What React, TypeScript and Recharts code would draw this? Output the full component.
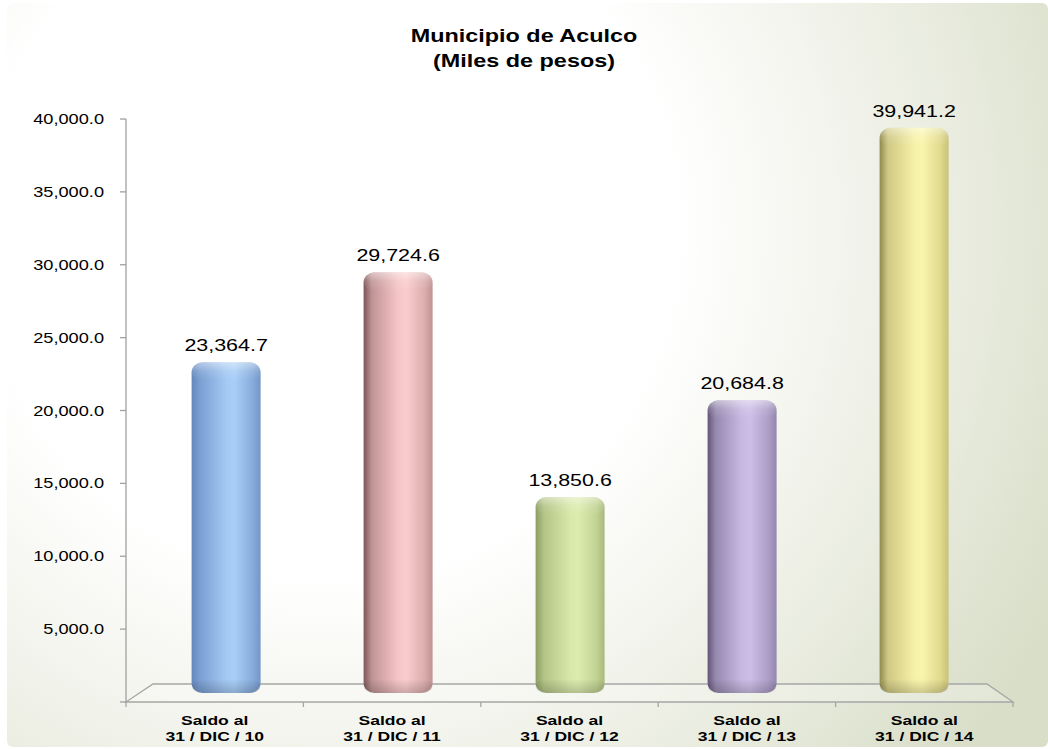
import { BarChart, Bar, XAxis, YAxis, LabelList } from 'recharts';

// data
const categories = ['31 / DIC / 10', '31 / DIC / 11', '31 / DIC / 12', '31 / DIC / 13', '31 / DIC / 14'];
const saldos = [23364.7, 29724.6, 13850.6, 20684.8, 39941.2];
const yTicks = [0, 5000, 10000, 15000, 20000, 25000, 30000, 35000, 40000];
const labelPrefix = 'Saldo al';

// layout
const W = 1048;
const H = 749;
const PLOT = { left: 126, right: 1013, top: 119, bottom: 702 };
const FLOOR_DEPTH = 18;
const FLOOR_INSET = 27;
const SX = 1.3; // the source picture is stretched horizontally
const FONT = '"Liberation Sans", Arial, sans-serif';

// the bars stand on the back of the 3D floor, so they use a slightly shifted scale
const backDomain = [-640, 40560];

// cylinder shading, left edge -> highlight -> right edge
const shades = [
  ['#6587bb', '#7b9fd2', '#a4c9f3', '#a9cff8', '#88acdc', '#7396c8'],
  ['#7d5658', '#c09496', '#f6c6c7', '#facccd', '#dcaeae', '#c09294'],
  ['#8d9c63', '#b3c486', '#d8e8aa', '#dcecaf', '#c3d394', '#a9b97c'],
  ['#625678', '#978ab0', '#c8b9e2', '#ccbee6', '#ad9ec8', '#9486ad'],
  ['#8f8a4e', '#cfc884', '#f6f1a8', '#faf5ad', '#e0da8e', '#c8c27a'],
];
const stopAt = [0, 0.12, 0.5, 0.62, 0.88, 1];

const data = categories.map((name, i) => ({ name, value: saldos[i] }));

const fmt = (v: number) =>
  v.toLocaleString('en-US', { minimumFractionDigits: 1, maximumFractionDigits: 1 });

const YTick = (p: any) => {
  if (p.payload.value === 0) return <g />;
  return (
    <text
      transform={`translate(${p.x},${p.y}) scale(${SX},1)`}
      textAnchor="end"
      dy={5}
      fontSize={14}
      fontFamily={FONT}
      fill="#000"
    >
      {fmt(p.payload.value)}
    </text>
  );
};

const XTick = (p: any) => (
  <g transform={`translate(${p.x},${p.y})`}>
    <text transform={`scale(${SX},1)`} textAnchor="middle" fontSize={13.5} fontWeight="bold" fontFamily={FONT} fill="#000">
      <tspan x={0} y={23}>{labelPrefix}</tspan>
      <tspan x={0} y={39}>{p.payload.value}</tspan>
    </text>
  </g>
);

const ValueLabel = (p: any) => {
  const x = p.x ?? p.viewBox?.x;
  const y = p.y ?? p.viewBox?.y;
  const w = p.width ?? p.viewBox?.width;
  return (
    <text
      transform={`translate(${x + w / 2},${y - 11}) scale(${SX},1)`}
      textAnchor="middle"
      fontSize={16.5}
      fontFamily={FONT}
      fill="#000"
    >
      {fmt(Number(p.value))}
    </text>
  );
};

const Cylinder = (p: any) => {
  const { x, y, width, height, index } = p;
  if (!height || height <= 0) return <g />;
  const r = Math.min(11, width / 2);
  return (
    <g>
      <rect x={x} y={y} width={width} height={height} rx={r} ry={10} fill={`url(#bar${index})`} />
      <rect x={x} y={y} width={width} height={Math.min(18, height)} rx={r} ry={10} fill="url(#capShine)" />
      <rect x={x} y={y + height - 14} width={width} height={14} rx={r} ry={10} fill="url(#baseShade)" />
    </g>
  );
};

function Backdrop() {
  const n = categories.length;
  const step = (PLOT.right - PLOT.left) / n;
  const back = PLOT.bottom - FLOOR_DEPTH;
  return (
    <svg width={W} height={H} style={{ position: 'absolute', left: 0, top: 0 }}>
      <defs>
        <radialGradient id="bg" gradientUnits="userSpaceOnUse" cx={330} cy={230} r={820}>
          <stop offset="0" stopColor="#ffffff" />
          <stop offset="0.42" stopColor="#ffffff" />
          <stop offset="0.7" stopColor="#eef0e6" />
          <stop offset="1" stopColor="#d8dec8" />
        </radialGradient>
      </defs>
      <rect x={7} y={3} width={W - 7} height={H - 5} rx={6} fill="url(#bg)" />
      <text transform={`translate(524,42) scale(${SX},1)`} textAnchor="middle" fontSize={18} fontWeight="bold" fontFamily={FONT} fill="#000">
        Municipio de Aculco
      </text>
      <text transform={`translate(524,67) scale(${SX},1)`} textAnchor="middle" fontSize={18} fontWeight="bold" fontFamily={FONT} fill="#000">
        (Miles de pesos)
      </text>
      <polygon
        points={`${PLOT.left},${PLOT.bottom} ${PLOT.right},${PLOT.bottom} ${PLOT.right - FLOOR_INSET + 1},${back} ${PLOT.left + FLOOR_INSET},${back}`}
        fill="#ffffff"
        fillOpacity={0.25}
        stroke="#a6a6a6"
        strokeWidth={1.3}
      />
      {Array.from({ length: n + 1 }, (_, i) => (
        <line
          key={i}
          x1={PLOT.left + i * step}
          x2={PLOT.left + i * step}
          y1={PLOT.bottom}
          y2={PLOT.bottom + 5}
          stroke="#a6a6a6"
          strokeWidth={1.3}
        />
      ))}
    </svg>
  );
}

export default function App() {
  return (
    <div style={{ position: 'absolute', left: 0, top: 0, width: W, height: H, background: '#fff', overflow: 'hidden' }}>
      <Backdrop />
      <div style={{ position: 'absolute', left: 0, top: 0 }}>
        <BarChart
          width={W}
          height={H}
          data={data}
          barCategoryGap="30%"
          margin={{ top: PLOT.top, right: W - PLOT.right, bottom: 0, left: PLOT.left - 80 }}
        >
          <defs>
            {shades.map((s, i) => (
              <linearGradient key={i} id={`bar${i}`} x1="0" y1="0" x2="1" y2="0">
                {s.map((c, j) => (
                  <stop key={j} offset={stopAt[j]} stopColor={c} />
                ))}
              </linearGradient>
            ))}
            <linearGradient id="capShine" x1="0" y1="0" x2="0" y2="1">
              <stop offset="0" stopColor="#ffffff" stopOpacity={0.45} />
              <stop offset="0.5" stopColor="#ffffff" stopOpacity={0.12} />
              <stop offset="1" stopColor="#ffffff" stopOpacity={0} />
            </linearGradient>
            <linearGradient id="baseShade" x1="0" y1="0" x2="0" y2="1">
              <stop offset="0" stopColor="#000000" stopOpacity={0} />
              <stop offset="1" stopColor="#000000" stopOpacity={0.18} />
            </linearGradient>
          </defs>
          <XAxis
            xAxisId="front"
            dataKey="name"
            height={H - PLOT.bottom}
            axisLine={false}
            tickLine={false}
            tickSize={0}
            tickMargin={0}
            interval={0}
            tick={<XTick />}
          />
          <XAxis
            xAxisId="back"
            dataKey="name"
            hide
            height={0}
            padding={{ left: 14, right: 13 }}
          />
          <YAxis
            yAxisId="front"
            type="number"
            width={80}
            domain={[0, 40000]}
            ticks={yTicks}
            allowDataOverflow
            axisLine={{ stroke: '#a0a0a0', strokeWidth: 1.3 }}
            tickLine={{ stroke: '#a0a0a0', strokeWidth: 1.3 }}
            tickSize={6}
            tickMargin={16}
            interval={0}
            tick={<YTick />}
          />
          <YAxis yAxisId="back" type="number" hide width={0} domain={backDomain} allowDataOverflow />
          <Bar
            dataKey="value"
            xAxisId="back"
            yAxisId="back"
            isAnimationActive={false}
            shape={(p: any) => <Cylinder {...p} />}
          >
            <LabelList dataKey="value" position="top" content={(p: any) => <ValueLabel {...p} />} />
          </Bar>
        </BarChart>
      </div>
    </div>
  );
}
